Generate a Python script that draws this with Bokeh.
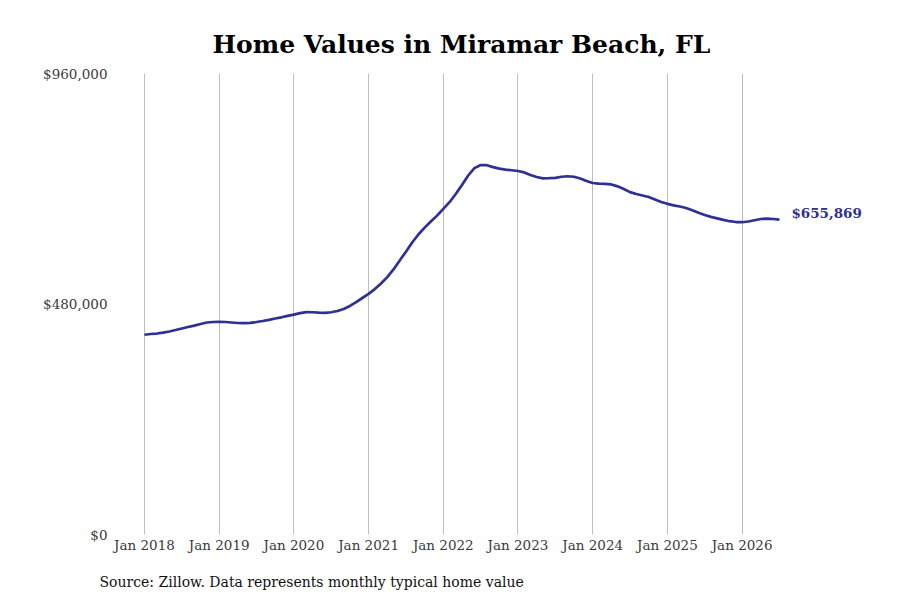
from bokeh.plotting import figure
from bokeh.models import Range1d, FixedTicker, Title
from bokeh.embed import file_html
from bokeh.resources import INLINE
from bokeh.core.properties import value

title_text = "Home Values in Miramar Beach, FL"
source_text = "Source: Zillow. Data represents monthly typical home value"

start_year = 2018  # first month: Jan 2018, monthly series
home_values = [
    # 2018
    416000, 417500, 418500, 420500, 422700, 425800, 429000, 432000, 435000, 438300, 441500, 442500,
    # 2019
    443000, 442500, 441500, 440400, 440000, 440800, 442500, 444600, 447000, 449800, 452300, 455400,
    # 2020
    458000, 461000, 463000, 462800, 462000, 461700, 462800, 465400, 469600, 476000, 484000, 492500,
    # 2021
    501000, 511000, 522700, 536000, 552000, 570600, 589000, 608000, 624700, 639000, 651800, 664000,
    # 2022
    678000, 692000, 709000, 728000, 747600, 763000, 769500, 769000, 765000, 762000, 760000, 758500,
    # 2023
    757000, 754000, 748500, 744500, 741700, 742000, 742800, 745000, 746000, 745000, 741300, 736000,
    # 2024
    732000, 730500, 730300, 729000, 725000, 719500, 713000, 709000, 706000, 702800, 697600, 692400,
    # 2025
    688600, 685500, 683000, 680000, 675300, 670000, 665300, 661500, 658400, 655300, 652400, 650700,
    # 2026
    650300, 651800, 654500, 657000, 657600, 657000, 655869,
]

tick_years = [2018, 2019, 2020, 2021, 2022, 2023, 2024, 2025, 2026]
tick_labels = ["Jan 2018", "Jan 2019", "Jan 2020", "Jan 2021", "Jan 2022",
               "Jan 2023", "Jan 2024", "Jan 2025", "Jan 2026"]
y_ticks = [0, 480000, 960000]
y_tick_labels = ["$0", "$480,000", "$960,000"]
last_label = "$655,869"

line_color = "#2E3192"
serif = "DejaVu Serif"

x = [start_year + i / 12 for i in range(len(home_values))]

p = figure(
    frame_width=755, frame_height=461,
    min_border_left=115, min_border_right=22, min_border_top=73, min_border_bottom=66,
    x_range=Range1d(2017.612, 2027.719), y_range=Range1d(0, 960000),
    output_backend="svg", toolbar_location=None,
)
p.outline_line_color = None
p.background_fill_color = "white"
p.border_fill_color = "white"

p.title.text = title_text
p.title.text_font = serif
p.title.text_font_size = "25px"
p.title.text_font_style = "bold"
p.title.text_color = "#000000"
p.title.align = "left"
p.title.offset = 97
p.title.standoff = 30

src = Title(text=source_text, align="left", offset=-16, text_font=serif,
            text_font_size="14px", text_font_style="normal", text_color="#111111",
            standoff=33)
p.add_layout(src, "below")

# axes
p.xaxis.ticker = FixedTicker(ticks=tick_years)
p.xaxis.major_label_overrides = dict(zip(tick_years, tick_labels))
p.yaxis.ticker = FixedTicker(ticks=y_ticks)
p.yaxis.major_label_overrides = dict(zip(y_ticks, y_tick_labels))
for ax in (p.xaxis, p.yaxis):
    ax.axis_line_color = None
    ax.major_tick_line_color = None
    ax.minor_tick_line_color = None
    ax.major_tick_out = 0
    ax.major_tick_in = 0
    ax.minor_tick_out = 0
    ax.major_label_text_font = serif
    ax.major_label_text_font_size = "13.5px"
    ax.major_label_text_color = "#3a3a3a"
p.xaxis.major_label_standoff = 2
p.yaxis.major_label_standoff = 8

p.xgrid.ticker = FixedTicker(ticks=tick_years)
p.xgrid.grid_line_color = "#bdbdbd"
p.xgrid.grid_line_width = 1
p.ygrid.grid_line_color = None

p.line(x, home_values, line_color=line_color, line_width=2.7)
p.text(x=[x[-1]], y=[home_values[-1]], text=[last_label], x_offset=12, y_offset=-7,
       text_baseline="middle", text_align="left", text_font=value(serif),
       text_font_style="bold", text_font_size="13.5px", text_color=line_color)

open("out.html", "w").write(file_html(p, INLINE))
